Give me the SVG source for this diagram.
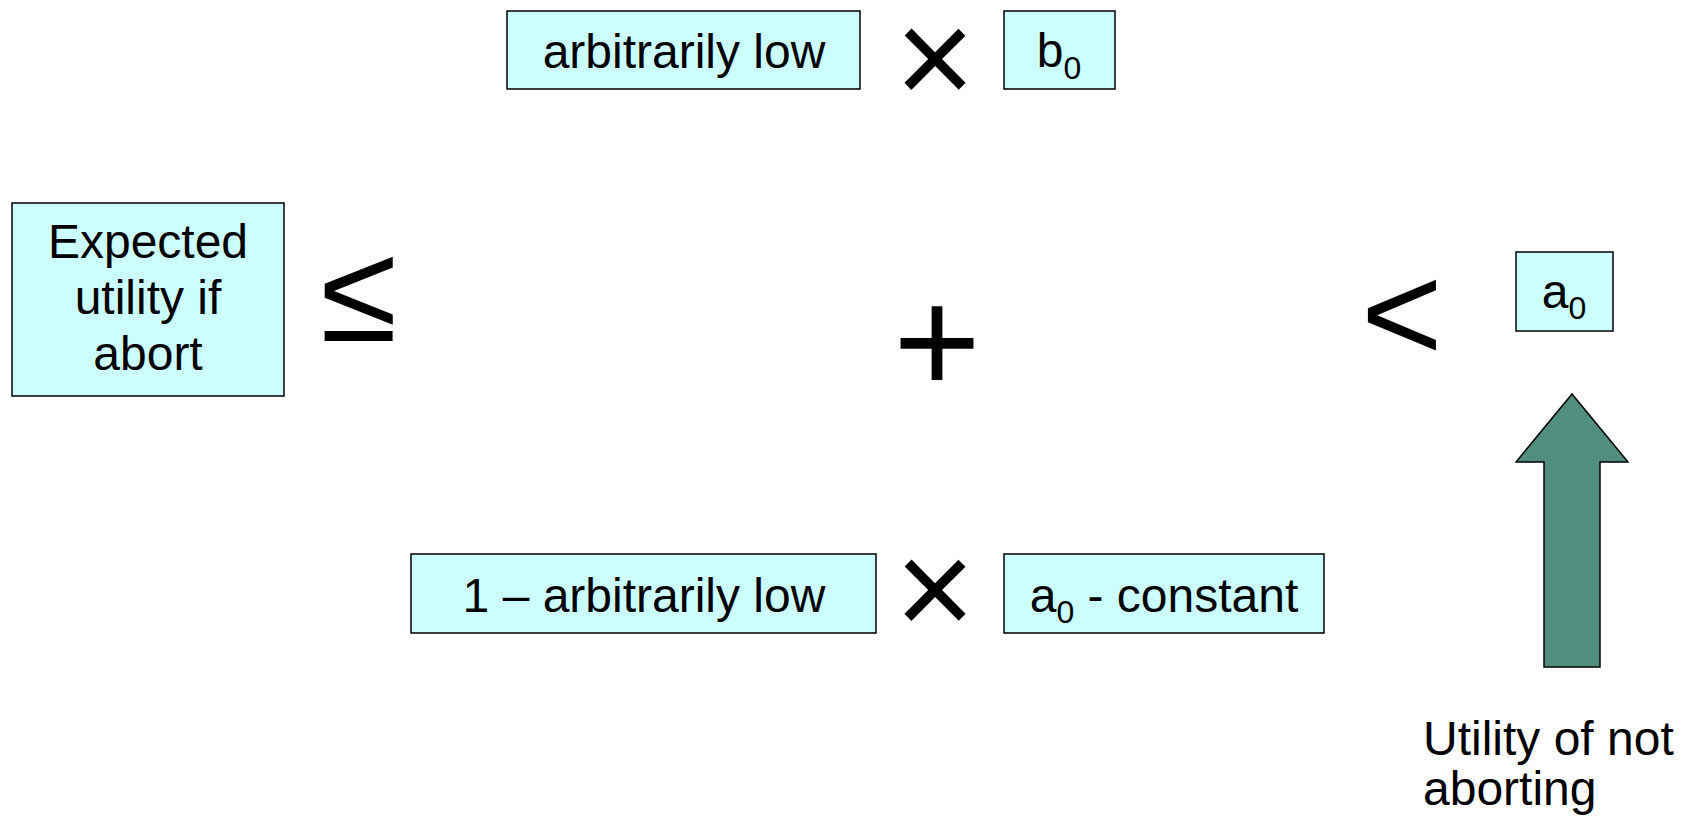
<svg xmlns="http://www.w3.org/2000/svg" width="1693" height="821" viewBox="0 0 1693 821">
<style>
.box{fill:#CCFFFF;stroke:#000;stroke-width:1.5}
.t{font-family:"Liberation Sans",Arial,sans-serif;font-size:48px;fill:#000;text-anchor:middle}
.sub{font-size:32px}
.sym{font-family:"Liberation Sans",Arial,sans-serif;font-size:140px;fill:#000;text-anchor:middle}
.plus{font-family:"Liberation Sans",Arial,sans-serif;font-size:150px;fill:#000;text-anchor:middle}
.mul{font-family:"Liberation Sans",Arial,sans-serif;font-size:137px;fill:#000;text-anchor:middle}
.arrow{fill:#508F7E;stroke:#000;stroke-width:1.5}
</style>
<rect width="1693" height="821" fill="#fff"/>
<g id="node-arbitrarily-low">
<rect class="box" x="507" y="11" width="353" height="78"/>
<text class="t" x="684" y="68">arbitrarily low</text>
</g>
<g id="op-times-top">
<text class="mul" x="935" y="105">×</text>
</g>
<g id="node-b0">
<rect class="box" x="1004" y="11" width="111" height="78"/>
<text class="t" x="1059" y="67">b<tspan class="sub" dy="12">0</tspan></text>
</g>
<g id="node-expected">
<rect class="box" x="12" y="203" width="272" height="193"/>
<text class="t" x="148" y="258">Expected</text>
<text class="t" x="148" y="314">utility if</text>
<text class="t" x="148" y="370">abort</text>
</g>
<g id="op-leq">
<text class="sym" x="359" y="341">≤</text>
</g>
<g id="op-plus">
<text class="plus" x="937" y="393">+</text>
</g>
<g id="op-lt">
<text class="sym" x="1402" y="361">&lt;</text>
</g>
<g id="node-a0">
<rect class="box" x="1516" y="252" width="97" height="79"/>
<text class="t" x="1564" y="308">a<tspan class="sub" dy="11">0</tspan></text>
</g>
<g id="node-one-minus">
<rect class="box" x="411" y="554" width="465" height="79"/>
<text class="t" x="644" y="612">1 – arbitrarily low</text>
</g>
<g id="op-times-bottom">
<text class="mul" x="935" y="636">×</text>
</g>
<g id="node-a0-constant">
<rect class="box" x="1004" y="554" width="320" height="79"/>
<text class="t" x="1164" y="612">a<tspan class="sub" dy="11">0</tspan><tspan dy="-11"> - constant</tspan></text>
</g>
<g id="connectors">
<polygon class="arrow" points="1572,394 1628,462 1600,462 1600,667 1544,667 1544,462 1516,462"/>
</g>
<g id="label-utility">
<text class="t" style="text-anchor:start" x="1423" y="755">Utility of not</text>
<text class="t" style="text-anchor:start" x="1423" y="805">aborting</text>
</g>
</svg>
